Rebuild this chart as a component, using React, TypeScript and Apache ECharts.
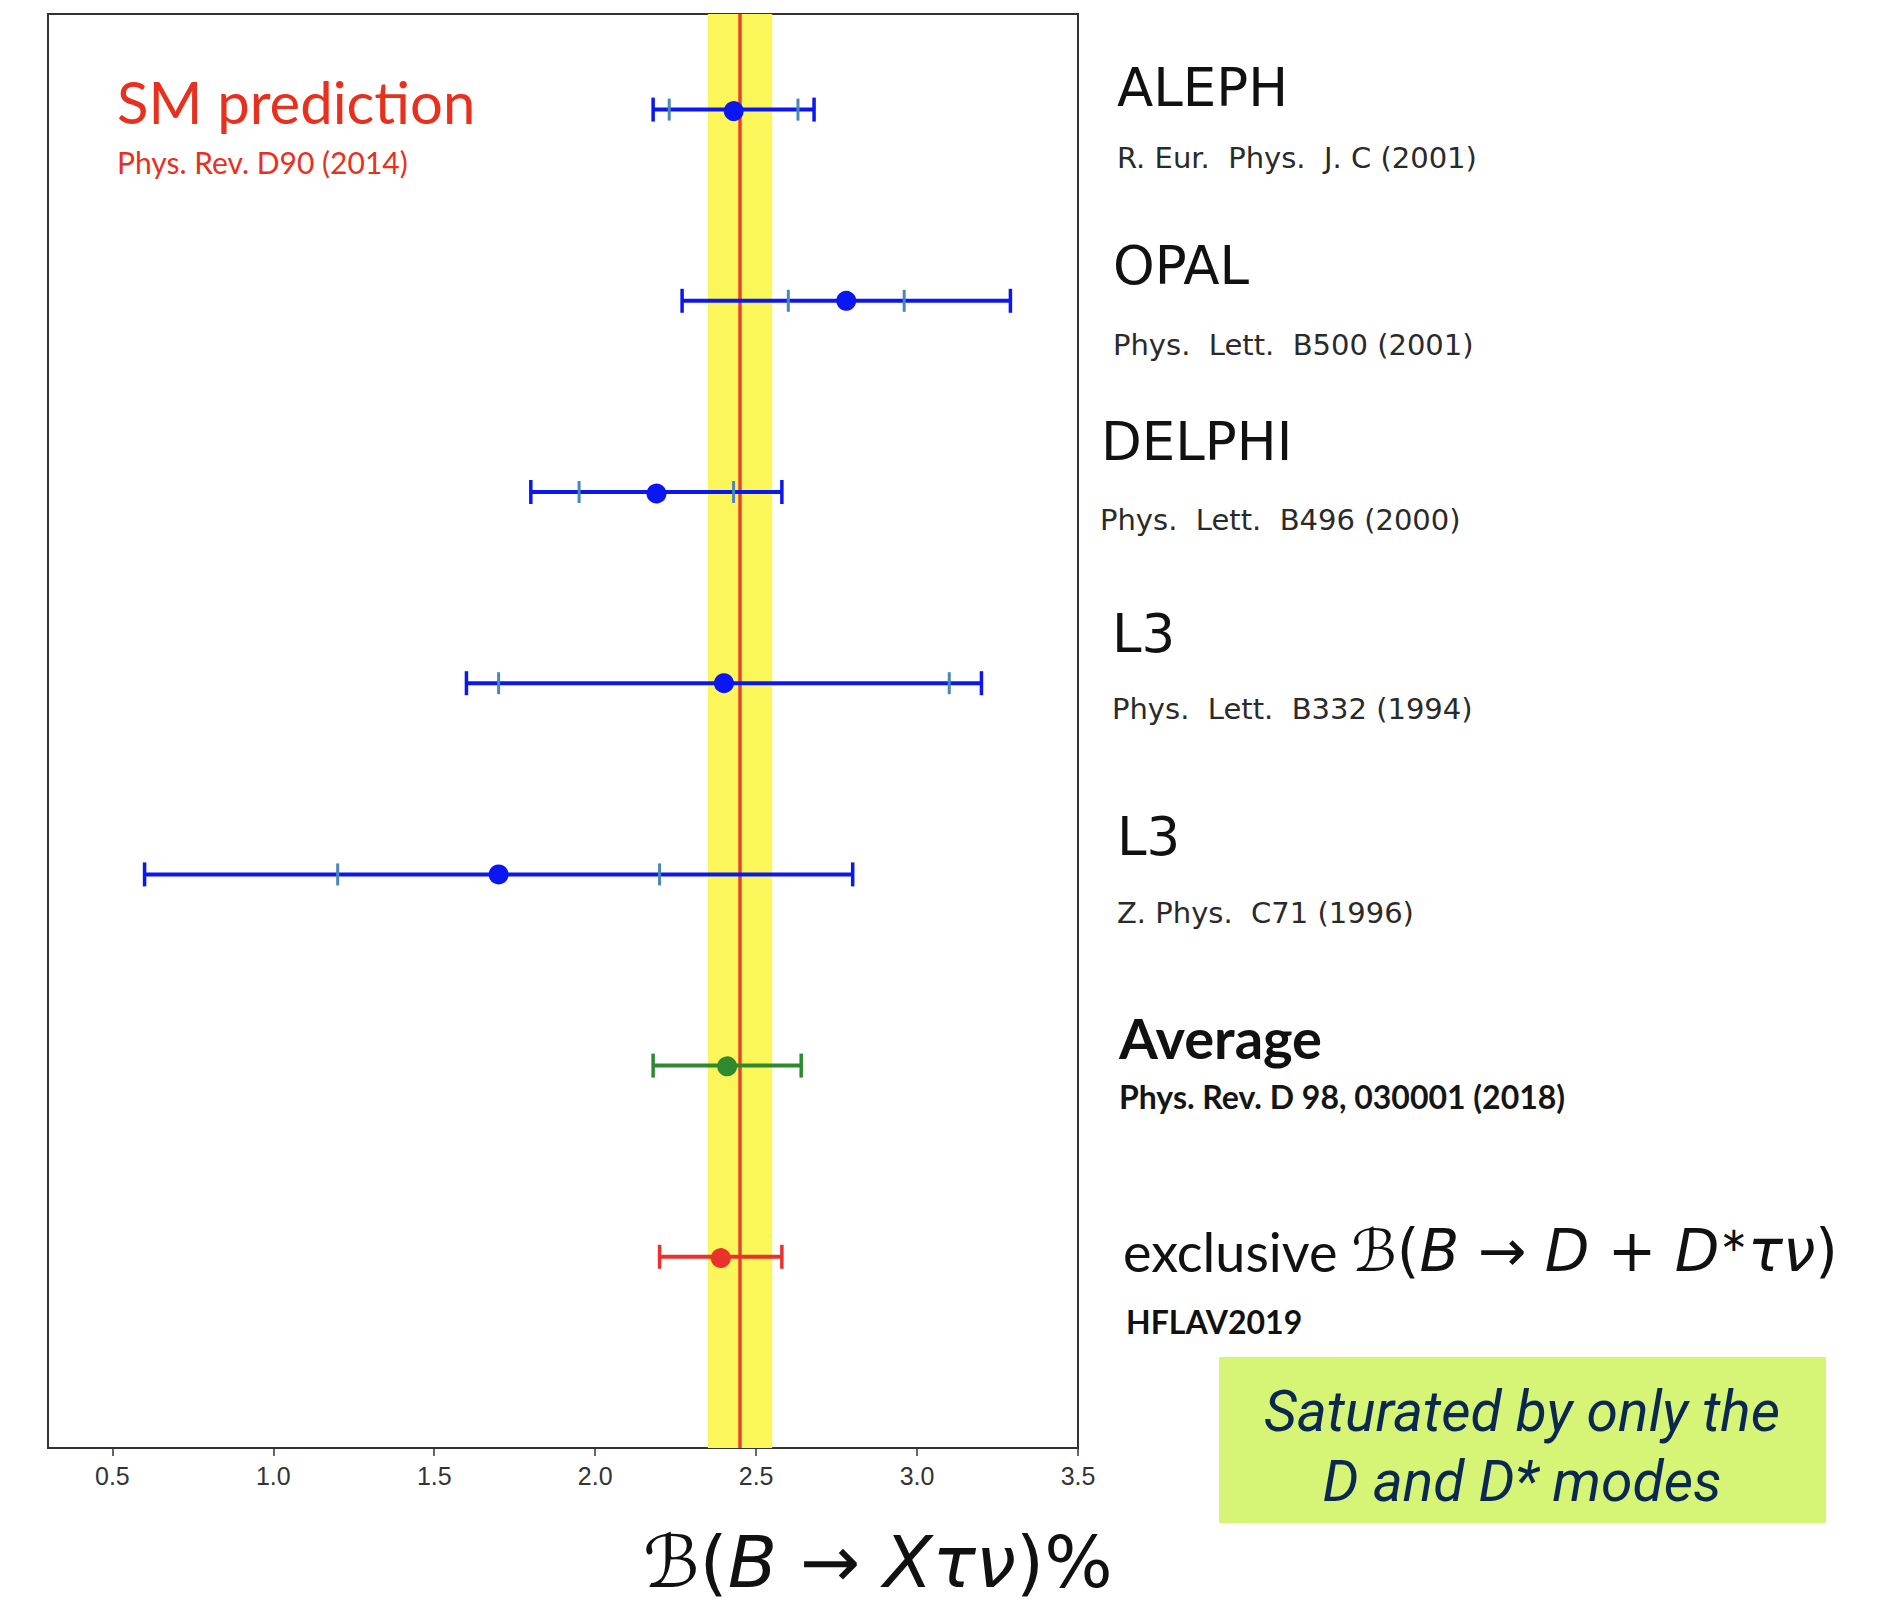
import React, { useEffect, useRef } from "react";
import * as echarts from "echarts";

// ---- data ----
const experiments = ["ALEPH", "OPAL", "DELPHI", "L3", "L3", "Average"];
const references = [
  "R. Eur.  Phys.  J. C (2001)",
  "Phys.  Lett.  B500 (2001)",
  "Phys.  Lett.  B496 (2000)",
  "Phys.  Lett.  B332 (1994)",
  "Z. Phys.  C71 (1996)",
  "Phys. Rev. D 98, 030001 (2018)",
];
const rowPositions = [7, 6, 5, 4, 3, 2, 1];
const centralValues = [2.43, 2.78, 2.19, 2.4, 1.7, 2.41, 2.39];
const statErrors = [0.2, 0.18, 0.24, 0.7, 0.5, 0, 0];
const totalErrors = [0.25, 0.51, 0.39, 0.8, 1.1, 0.23, 0.19];
const rowColors = ["#0b17f2", "#0b17f2", "#0b17f2", "#0b17f2", "#0b17f2", "#2f8a2f", "#e8322b"];
const xTickValues = [0.5, 1.0, 1.5, 2.0, 2.5, 3.0, 3.5];
const smCentral = 2.45;
const smError = 0.1;

const GRID = { left: 48, right: 813, top: 14, bottom: 157 };

export default function App() {
  const ref = useRef<HTMLDivElement>(null);

  useEffect(() => {
    if (!ref.current) return;
    const chart = echarts.init(ref.current, null, { renderer: "svg" });

    const data = centralValues.map((c, i) => [c, rowPositions[i], statErrors[i], totalErrors[i]]);

    const sans = "DejaVu Sans";
    const cal = "Lato";

    const headY = [87, 265, 441, 633, 836];
    const headX = [1117, 1113, 1101, 1112, 1117];
    const subY = [158, 345, 520, 709, 913];
    const subX = [1117, 1113, 1100, 1112, 1117];

    const graphics: any[] = [];
    for (let i = 0; i < 5; i++) {
      graphics.push({
        type: "text",
        x: headX[i],
        y: headY[i],
        style: { text: experiments[i], fontSize: 53, fontFamily: sans, fill: "#111", verticalAlign: "middle", align: "left" },
      });
      graphics.push({
        type: "text",
        x: subX[i],
        y: subY[i],
        style: { text: references[i], fontSize: 29, fontFamily: sans, fill: "#2a2a2a", verticalAlign: "middle", align: "left" },
      });
    }
    graphics.push({
      type: "text",
      x: 1119,
      y: 1037,
      style: { text: experiments[5], fontSize: 56, fontFamily: cal, fontWeight: "bold", fill: "#111", verticalAlign: "middle", align: "left" },
    });
    graphics.push({
      type: "text",
      x: 1119,
      y: 1096,
      style: { text: references[5], fontSize: 32, fontFamily: cal, fontWeight: "bold", fill: "#151515", verticalAlign: "middle", align: "left" },
    });
    graphics.push({
      type: "text",
      x: 1123,
      y: 1251,
      style: {
        text: "{t|exclusive }{m|ℬ(}{i|B}{m| → }{i|D}{m| + }{i|D}{s|∗}{i|τν}{m|)}",
        verticalAlign: "middle",
        align: "left",
        fill: "#111",
        rich: {
          t: { fontSize: 54, fontFamily: cal, fill: "#111" },
          m: { fontSize: 58, fontFamily: sans, fill: "#111" },
          i: { fontSize: 58, fontFamily: sans, fontStyle: "italic", fill: "#111" },
          s: { fontSize: 34, fontFamily: sans, fill: "#111", verticalAlign: "top" },
        },
      },
    });
    graphics.push({
      type: "text",
      x: 1126,
      y: 1321,
      style: { text: "HFLAV2019", fontSize: 32, fontFamily: cal, fontWeight: "bold", fill: "#111", verticalAlign: "middle", align: "left" },
    });
    graphics.push({
      type: "rect",
      shape: { x: 1219, y: 1357, width: 607, height: 166 },
      style: { fill: "#d6f577" },
    });
    graphics.push({
      type: "text",
      x: 1522,
      y: 1411,
      style: { text: "Saturated by only the", fontSize: 57, fontFamily: "Roboto", fontStyle: "italic", fill: "#0a2852", verticalAlign: "middle", align: "center" },
    });
    graphics.push({
      type: "text",
      x: 1522,
      y: 1481,
      style: { text: "D and D* modes", fontSize: 57, fontFamily: "Roboto", fontStyle: "italic", fill: "#0a2852", verticalAlign: "middle", align: "center" },
    });
    graphics.push({
      type: "text",
      x: 117,
      y: 101,
      style: { text: "SM prediction", fontSize: 58, fontFamily: cal, fill: "#e8301e", verticalAlign: "middle", align: "left" },
    });
    graphics.push({
      type: "text",
      x: 117,
      y: 162,
      style: { text: "Phys. Rev. D90 (2014)", fontSize: 30, fontFamily: cal, fill: "#e8301e", verticalAlign: "middle", align: "left" },
    });
    graphics.push({
      type: "text",
      x: 643,
      y: 1562,
      style: {
        text: "{m|ℬ(}{i|B}{m| → }{i|Xτν}{m|)%}",
        verticalAlign: "middle",
        align: "left",
        rich: {
          m: { fontSize: 72, fontFamily: sans, fill: "#111" },
          i: { fontSize: 72, fontFamily: sans, fontStyle: "italic", fill: "#111" },
        },
      },
    });

    chart.setOption({
      animation: false,
      backgroundColor: "#ffffff",
      grid: { ...GRID, show: true, borderColor: "#333", borderWidth: 2, backgroundColor: "transparent" },
      xAxis: {
        type: "value",
        min: 0.3,
        max: 3.5,
        axisLine: { show: true, lineStyle: { color: "#333", width: 2 } },
        axisTick: { show: true, length: 8, lineStyle: { color: "#333", width: 1.5 }, customValues: xTickValues },
        axisLabel: {
          customValues: xTickValues,
          formatter: (v: number) => v.toFixed(1),
          fontSize: 25,
          fontFamily: "Liberation Sans",
          color: "#333",
          margin: 15,
        },
        splitLine: { show: false },
      },
      yAxis: {
        type: "value",
        min: 0,
        max: 7.5,
        show: false,
        splitLine: { show: false },
      },
      series: [
        {
          type: "line",
          z: 1,
          data: [[smCentral, 0]],
          symbol: "none",
          silent: true,
          markArea: {
            silent: true,
            itemStyle: { color: "#fbf75a" },
            data: [[{ xAxis: smCentral - smError }, { xAxis: smCentral + smError }]],
          },
        },
        {
          type: "custom",
          z: 5,
          data,
          encode: { x: 0, y: 1 },
          renderItem: (params: any, api: any) => {
            const xc = api.value(0);
            const y = api.value(1);
            const st = api.value(2);
            const tot = api.value(3);
            const color = rowColors[params.dataIndex];
            const [cx, cy] = api.coord([xc, y]);
            const lx = api.coord([xc - tot, y])[0];
            const rx = api.coord([xc + tot, y])[0];
            const capH = 12;
            const children: any[] = [
              { type: "line", shape: { x1: lx, y1: cy, x2: rx, y2: cy }, style: { stroke: color, lineWidth: 4 } },
              { type: "line", shape: { x1: lx, y1: cy - capH, x2: lx, y2: cy + capH }, style: { stroke: color, lineWidth: 3.5 } },
              { type: "line", shape: { x1: rx, y1: cy - capH, x2: rx, y2: cy + capH }, style: { stroke: color, lineWidth: 3.5 } },
            ];
            if (st > 0) {
              const sl = api.coord([xc - st, y])[0];
              const sr = api.coord([xc + st, y])[0];
              children.push({ type: "line", shape: { x1: sl, y1: cy - 11, x2: sl, y2: cy + 11 }, style: { stroke: "#4a86b6", lineWidth: 3 } });
              children.push({ type: "line", shape: { x1: sr, y1: cy - 11, x2: sr, y2: cy + 11 }, style: { stroke: "#4a86b6", lineWidth: 3 } });
            }
            children.push({ type: "circle", shape: { cx, cy, r: 10 }, style: { fill: color } });
            return { type: "group", children };
          },
        },
        {
          type: "line",
          z: 10,
          data: [[smCentral, 0]],
          symbol: "none",
          silent: true,
          markLine: {
            silent: true,
            symbol: ["none", "none"],
            label: { show: false },
            lineStyle: { color: "#e8412c", width: 3.5, type: "solid" },
            data: [{ xAxis: smCentral }],
          },
        },
      ],
      graphic: graphics,
    });

    return () => chart.dispose();
  }, []);

  return <div ref={ref} style={{ position: "absolute", left: 0, top: 0, width: 1891, height: 1605 }} />;
}
